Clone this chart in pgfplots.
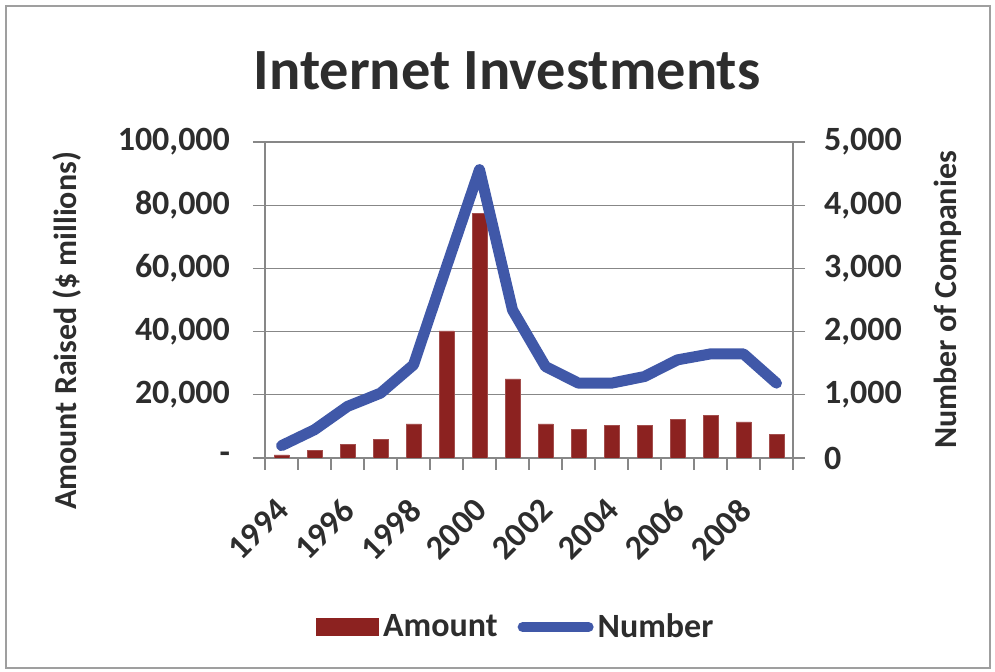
\documentclass[border=0pt]{standalone}
\usepackage{pgfplots}
\pgfplotsset{compat=1.18}
\usepackage{fontspec}
\setmainfont{Carlito}
\definecolor{barred}{RGB}{140,34,32}
\definecolor{blueline}{RGB}{64,88,168}
\definecolor{txt}{RGB}{45,45,45}
\definecolor{gridc}{RGB}{135,135,135}
\begin{document}
\begin{tikzpicture}
\path[use as bounding box] (0,0) rectangle (497.5pt,336pt);
\draw[gridc!80, line width=0.7pt] (3pt,2pt) rectangle (495pt,333pt);
\begin{axis}[
  at={(132.5pt,107pt)}, anchor=south west,
  scale only axis, width=264pt, height=158pt,
  xmin=-0.5, xmax=15.5, ymin=0, ymax=100000,
  scaled y ticks=false,
  axis y line*=left, axis x line*=bottom,
  axis line style={gridc, line width=0.6pt},
  ytick={0,20000,40000,60000,80000,100000},
  yticklabels={-,{20,000},{40,000},{60,000},{80,000},{100,000}},
  ymajorgrids, grid style={gridc, line width=0.6pt},
  tick align=outside, major tick length=6pt, minor tick length=6pt,
  tick style={gridc, line width=0.6pt},
  xtick={0,2,4,6,8,10,12,14},
  xticklabels={1994,1996,1998,2000,2002,2004,2006,2008},
  major x tick style={draw=none},
  minor xtick={-0.5,0.5,...,15.5},
  every tick label/.append style={font=\fontsize{17}{20}\selectfont\bfseries, text=txt},
  yticklabel style={xshift=-8pt},
  xticklabel shift=4pt,
  xticklabel style={rotate=45, anchor=north east, xshift=-5.5pt, yshift=-0.7pt},
  ybar, bar width=7.5pt,
]
\addplot[fill=barred, draw=barred!80!white, line width=0.3pt] coordinates {
(0,1000) (1,2400) (2,4200) (3,6000) (4,10800) (5,40200) (6,77400) (7,25000)
(8,10800) (9,9000) (10,10200) (11,10200) (12,12100) (13,13400) (14,11400) (15,7400)};
\end{axis}
\begin{axis}[
  at={(132.5pt,107pt)}, anchor=south west,
  scale only axis, width=264pt, height=158pt,
  xmin=-0.5, xmax=15.5, ymin=0, ymax=5000,
  scaled y ticks=false,
  axis y line*=right, axis x line=none,
  axis line style={gridc, line width=0.6pt},
  ytick={0,1000,2000,3000,4000,5000},
  yticklabels={0,{1,000},{2,000},{3,000},{4,000},{5,000}},
  tick align=outside, major tick length=6pt,
  tick style={gridc, line width=0.6pt},
  every tick label/.append style={font=\fontsize{17}{20}\selectfont\bfseries, text=txt},
  yticklabel style={xshift=6pt},
  legend columns=2,
  legend style={at={(0.477,-0.535)}, anchor=center, draw=none, fill=none,
    font=\fontsize{17}{20}\selectfont\bfseries, text=txt,
    /tikz/every even column/.append style={column sep=8pt}},
]
\addlegendimage{legend image code/.code={\fill[barred] (-2.5pt,-4.25pt) rectangle (28.5pt,4.25pt);}}
\addlegendentry{Amount}
\addplot[blueline, line width=5.5pt, line join=round, line cap=round,
  legend image code/.code={\draw[blueline, line width=5pt, line cap=round] (2pt,0pt) -- (35pt,0pt);}]
coordinates {
(0,195) (1,447) (2,816) (3,1026) (4,1474) (5,3026) (6,4563) (7,2342)
(8,1447) (9,1184) (10,1184) (11,1289) (12,1553) (13,1647) (14,1647) (15,1184)};
\addlegendentry{Number}
\end{axis}
\node[font=\fontsize{29.2}{35}\selectfont\bfseries, text=txt, anchor=base] at (253.5pt,291pt) {Internet Investments};
\node[font=\fontsize{16}{19}\selectfont\bfseries, text=txt, rotate=90] at (33.5pt,170.5pt) {Amount Raised (\$ millions)};
\node[font=\fontsize{16}{19}\selectfont\bfseries, text=txt, rotate=90] at (474pt,186pt) {Number of Companies};
\end{tikzpicture}
\end{document}
